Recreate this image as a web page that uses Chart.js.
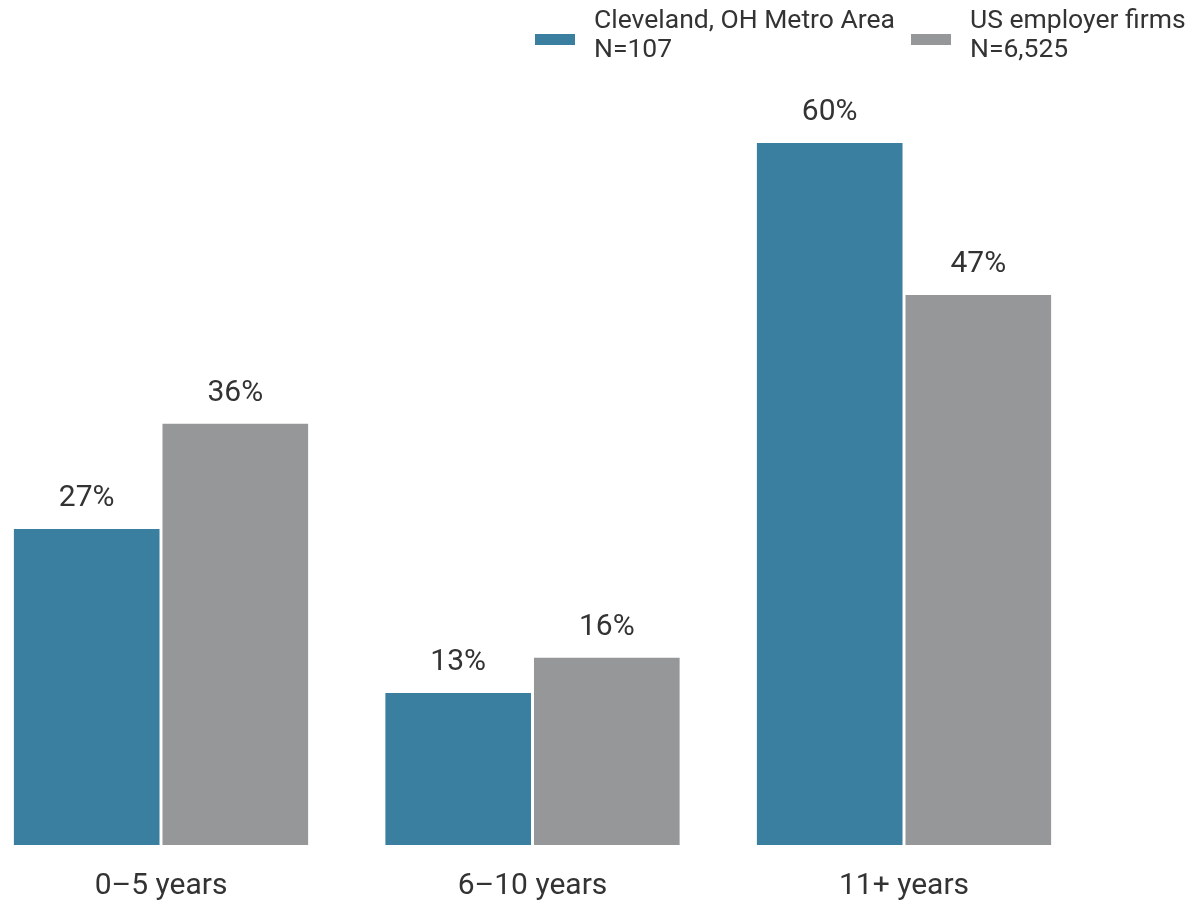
<!DOCTYPE html>
<html>
<head>
<meta charset="utf-8">
<script src="https://cdn.jsdelivr.net/npm/chart.js@4/dist/chart.umd.min.js"></script>
<style>
  html, body { margin: 0; padding: 0; background: #fff; }
  #wrap { width: 1204px; height: 908px; position: relative; }
</style>
</head>
<body>
<div id="wrap"><canvas id="grafico" width="1204" height="908"></canvas></div>
<script>
const categorias = ['0\u20135 years', '6\u201310 years', '11+ years'];
const cleveland = [27, 13, 60];
const usFirms = [36, 16, 47];
const legendaCleveland = ['Cleveland, OH Metro Area', 'N=107'];
const legendaUS = ['US employer firms', 'N=6,525'];

const AZUL = '#3A7EA0';
const CINZA = '#969799';
const TEXTO = '#333333';
const FONTE = 'Roboto, "Liberation Sans", sans-serif';

// rótulos em cima das barras
const rotulos = {
    id: 'rotulos',
    afterDatasetsDraw(chart) {
        const ctx = chart.ctx;
        ctx.save();
        ctx.font = '30px ' + FONTE;
        ctx.fillStyle = TEXTO;
        ctx.textAlign = 'center';
        ctx.textBaseline = 'alphabetic';
        chart.data.datasets.forEach((ds, i) => {
            chart.getDatasetMeta(i).data.forEach((bar, j) => {
                ctx.fillText(ds.data[j] + '%', bar.x, bar.y - 23);
            });
        });
        ctx.restore();
    }
};

// legenda desenhada à mão (duas linhas)
const legenda = {
    id: 'legenda',
    afterDraw(chart) {
        const ctx = chart.ctx;
        const itens = [
            { cor: AZUL, texto: legendaCleveland, x: 535 },
            { cor: CINZA, texto: legendaUS, x: 911 }
        ];
        ctx.save();
        ctx.font = '26.5px ' + FONTE;
        ctx.textBaseline = 'middle';
        ctx.textAlign = 'left';
        itens.forEach(it => {
            ctx.fillStyle = it.cor;
            ctx.fillRect(it.x, 34, 40, 11);
            ctx.fillStyle = TEXTO;
            ctx.fillText(it.texto[0], it.x + 59, 21);
            ctx.fillText(it.texto[1], it.x + 59, 50);
        });
        ctx.restore();
    }
};

function criarGrafico() {
    const canvas = document.getElementById('grafico');
    const ctx = canvas.getContext('2d');

    new Chart(ctx, {
        type: 'bar',
        data: {
            labels: categorias,
            datasets: [
                {
                    label: legendaCleveland.join(' '),
                    data: cleveland,
                    backgroundColor: AZUL,
                    categoryPercentage: 0.8,
                    barPercentage: 0.98,
                    clip: false
                },
                {
                    label: legendaUS.join(' '),
                    data: usFirms,
                    backgroundColor: CINZA,
                    categoryPercentage: 0.8,
                    barPercentage: 0.98,
                    clip: false
                }
            ]
        },
        options: {
            responsive: false,
            animation: false,
            layout: {
                padding: { left: 161, right: 300, top: 26, bottom: 0 }
            },
            plugins: {
                legend: { display: false },
                tooltip: { enabled: false }
            },
            scales: {
                x: {
                    offset: false,
                    grid: { display: false, drawTicks: false },
                    border: { display: false },
                    ticks: {
                        padding: 23,
                        maxRotation: 0,
                        minRotation: 0,
                        color: TEXTO,
                        font: { size: 30, family: FONTE }
                    },
                    afterFit(scale) {
                        scale.height = 63;
                    }
                },
                y: {
                    display: false,
                    min: 0,
                    max: 70
                }
            }
        },
        plugins: [rotulos, legenda]
    });
}

window.addEventListener('load', criarGrafico);
</script>
</body>
</html>
